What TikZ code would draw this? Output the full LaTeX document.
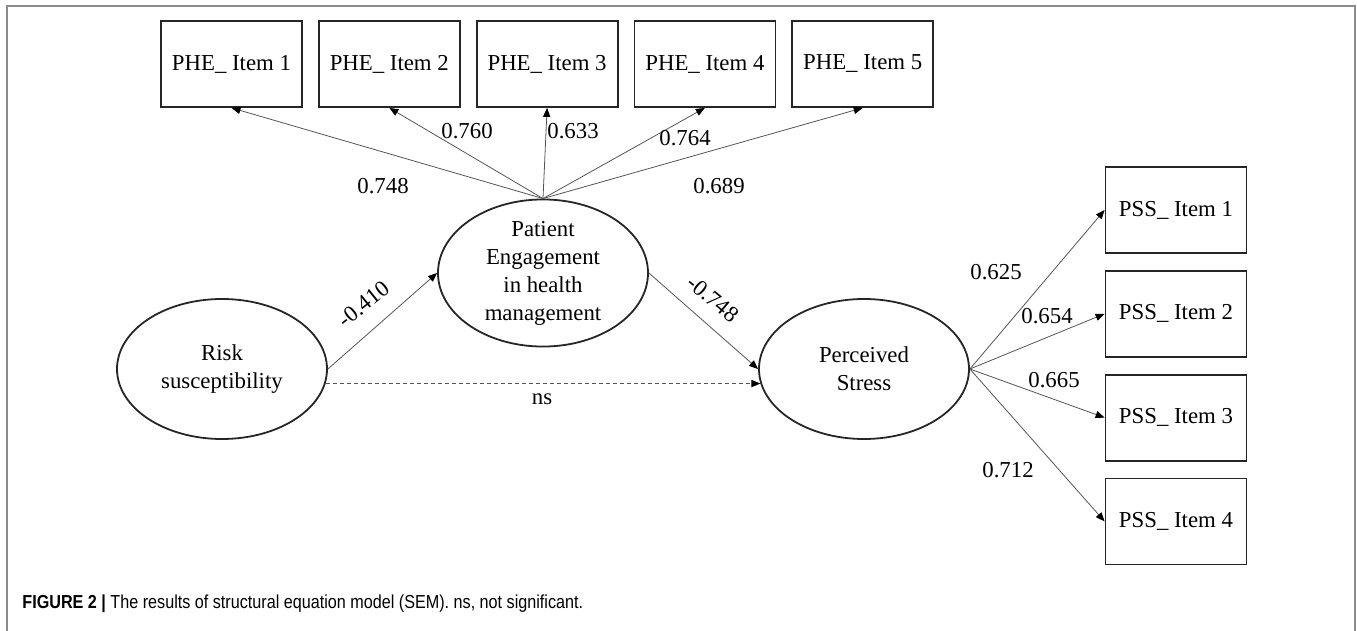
\documentclass[tikz,border=0pt]{standalone}
\usepackage{fontspec}
\setmainfont{Liberation Serif}
\newfontfamily\captionfont{Liberation Sans}[FakeStretch=0.86]
\usetikzlibrary{positioning,shapes.geometric,arrows.meta}

\begin{document}
\begin{tikzpicture}[x=0.5pt, y=-0.5pt, every node/.style={font=\fontsize{11.4}{14}\selectfont}]

      \definecolor{framegray}{HTML}{8C8C8C}
      \definecolor{linegray}{HTML}{555555}
      \definecolor{boxblack}{HTML}{262626}

      \tikzstyle{item}      = [rectangle, draw=boxblack, line width=0.9pt, minimum width=70.5pt, minimum height=43pt, inner sep=0pt]
      \tikzstyle{latent}    = [ellipse, draw=boxblack, line width=0.9pt, minimum width=105pt, minimum height=70pt, inner sep=0pt, align=center]
      \tikzstyle{connector} = [line width=0.4pt, draw=linegray, -{Triangle[length=4.5pt, width=3.6pt, color=black]}]
      \tikzstyle{coef}      = [inner sep=0pt]

      \newcommand{\phesep}[0]{7.5pt}
      \newcommand{\psssep}[0]{8pt}

      \useasboundingbox (0,0) rectangle (1357,631);
      \draw [framegray, line width=1pt] (7,631) -- (7,6) -- (1355,6) -- (1355,631);

      \node [latent] (risk)   at (222,369) {Risk\\susceptibility};
      \node [latent] (phe)    at (543,273) {Patient\\Engagement\\in health\\management};
      \node [latent] (stress) at (864,369) {Perceived\\Stress};

      \node [item]                         at (231.5,64) (phe1) {PHE\_ Item 1};
      \node [item, right = \phesep of phe1]              (phe2) {PHE\_ Item 2};
      \node [item, right = \phesep of phe2]              (phe3) {PHE\_ Item 3};
      \node [item, right = \phesep of phe3]              (phe4) {PHE\_ Item 4};
      \node [item, right = \phesep of phe4]              (phe5) {PHE\_ Item 5};

      \node [item]                         at (1176,210) (pss1) {PSS\_ Item 1};
      \node [item, below = \psssep of pss1]              (pss2) {PSS\_ Item 2};
      \node [item, below = \psssep of pss2]              (pss3) {PSS\_ Item 3};
      \node [item, below = \psssep of pss3]              (pss4) {PSS\_ Item 4};

      \foreach \i in {1,...,5}
        \draw [connector] (phe.north) -- (phe\i.south);
      \foreach \i in {1,...,4}
        \draw [connector] (stress.east) -- (pss\i.west);
      \draw [connector] (risk.east) -- (phe.west);
      \draw [connector] (phe.east)  -- (stress.west);
      \draw [connector, dash pattern=on 2pt off 1.5pt] (risk.-8) -- (stress.188);

      \node [coef]             at (383,186)  (coefphe1)  {0.748};
      \node [coef]             at (467,131)  (coefphe2)  {0.760};
      \node [coef]             at (573,131)  (coefphe3)  {0.633};
      \node [coef]             at (685,138)  (coefphe4)  {0.764};
      \node [coef]             at (719,186)  (coefphe5)  {0.689};
      \node [coef]             at (996,272)  (coefpss1)  {0.625};
      \node [coef]             at (1047,316) (coefpss2)  {0.654};
      \node [coef]             at (1054,380) (coefpss3)  {0.665};
      \node [coef]             at (1008,470) (coefpss4)  {0.712};
      \node [coef, rotate=39]  at (364,304)  (coefrisk)  {-0.410};
      \node [coef, rotate=-40] at (713,299)  (coefeng)   {-0.748};
      \node [coef]             at (542,399)  (coefns)    {ns};

      \node [anchor=west, inner sep=0pt, font=\captionfont\fontsize{9.4}{11}\selectfont] at (22,604) (caption)
        {\textbf{FIGURE 2 |} The results of structural equation model (SEM). ns, not significant.};

    \end{tikzpicture}
\end{document}
